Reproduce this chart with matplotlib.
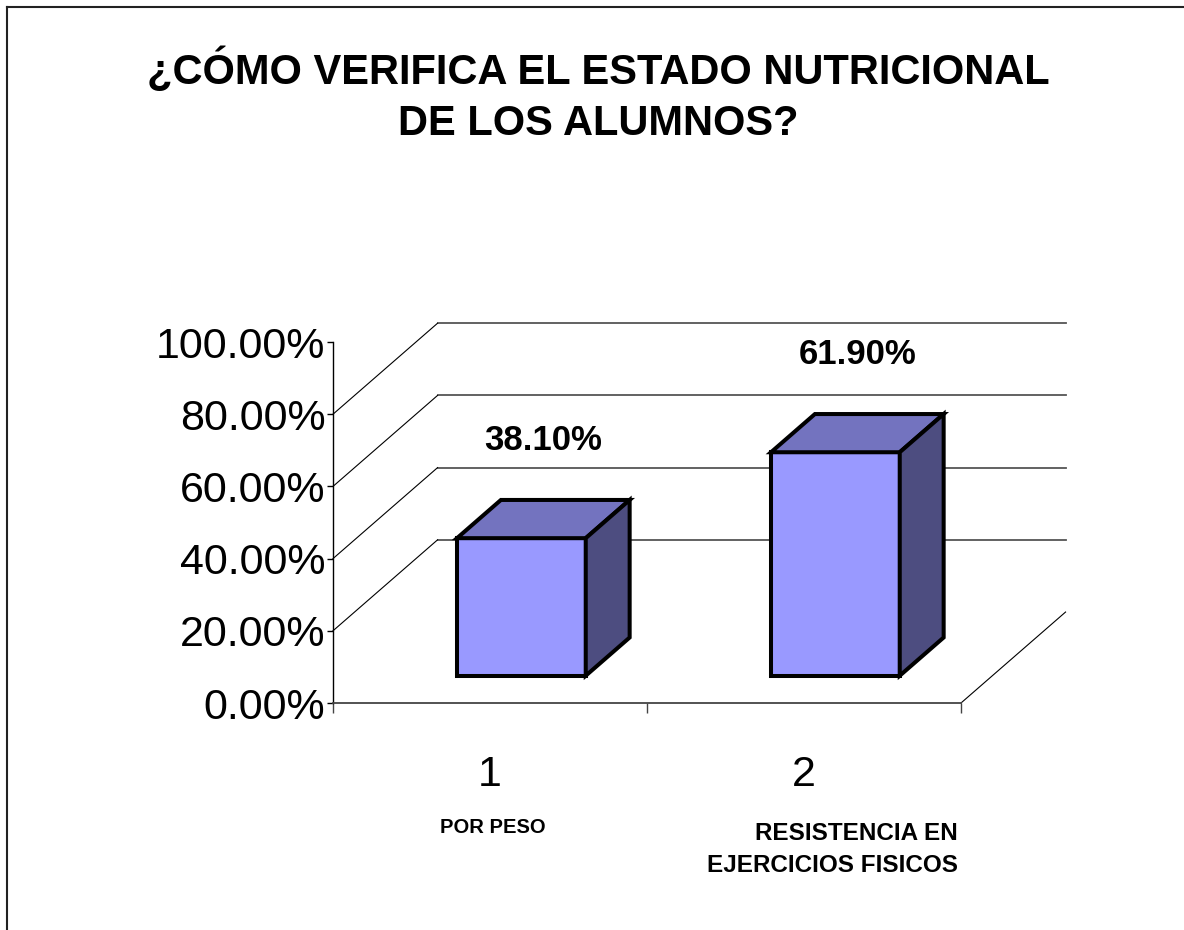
import matplotlib
matplotlib.use("Agg")
import matplotlib.pyplot as plt
from matplotlib.patches import Polygon
from matplotlib.lines import Line2D

plt.rcParams['font.family'] = ['Liberation Sans', 'DejaVu Sans']

# data
positions = [1, 2]
tick_names = ['1', '2']
category_labels = ['POR PESO', 'RESISTENCIA EN\nEJERCICIOS FISICOS']
values = [38.10, 61.90]
value_labels = ['38.10%', '61.90%']
y_ticks = [0, 20, 40, 60, 80, 100]
grid_levels = [20, 40, 60, 80]

title = '¿CÓMO VERIFICA EL ESTADO NUTRICIONAL\nDE LOS ALUMNOS?'

# fake 3d geometry (depth of the whole wall, in data units)
DX = 0.333
DY = 25.2
F0, F1 = 0.30, 0.72    # bar front / back depth fraction
BAR_W = 0.41
FRONT = '#9999FF'
TOP = '#7373BF'
SIDE = '#4D4D80'
EDGE_W = 2.9

fig = plt.figure(figsize=(11.84, 9.3), dpi=100)
ax = fig.add_axes([333 / 1184, 227 / 930, 628 / 1184, 361 / 930])
ax.set_xlim(0.5, 2.5)
ax.set_ylim(0, 100)
ax.patch.set_visible(False)

# walls
x0w, x1w = ax.get_xlim()
for g in grid_levels:
    ax.plot([x0w + DX, x1w + DX], [g + DY, g + DY], color='#555555', lw=1.3,
            clip_on=False, zorder=1)
    ax.plot([x0w, x0w + DX], [g, g + DY], color='black', lw=0.8,
            clip_on=False, zorder=1)
ax.plot([x1w, x1w + DX], [0, DY], color='black', lw=0.8, clip_on=False, zorder=1)

# bars
b0 = F0 * DY
bdx = (F1 - F0) * DX
bdy = (F1 - F0) * DY
fronts = [p + F0 * DX for p in positions]
ax.bar(fronts, values, width=BAR_W, bottom=b0, color=FRONT, edgecolor='black',
       linewidth=EDGE_W, zorder=3, clip_on=False)
for xc, v in zip(fronts, values):
    xa, xb = xc - BAR_W / 2, xc + BAR_W / 2
    top = Polygon([(xa, v + b0), (xb, v + b0), (xb + bdx, v + b0 + bdy),
                   (xa + bdx, v + b0 + bdy)], closed=True, facecolor=TOP,
                  edgecolor='black', lw=EDGE_W, zorder=3, clip_on=False,
                  joinstyle='miter')
    side = Polygon([(xb, b0), (xb + bdx, b0 + bdy), (xb + bdx, v + b0 + bdy),
                    (xb, v + b0)], closed=True, facecolor=SIDE,
                   edgecolor='black', lw=EDGE_W, zorder=3, clip_on=False,
                   joinstyle='miter')
    ax.add_patch(top)
    ax.add_patch(side)

for p, v, lab in zip(positions, values, value_labels):
    ax.text(p + (F0 + F1) / 2 * DX, v + 34.5, lab, ha='center', va='center',
            fontsize=25, fontweight='bold', clip_on=False)

# axes
ax.spines['top'].set_visible(False)
ax.spines['right'].set_visible(False)
ax.spines['left'].set_linewidth(1.0)
ax.spines['bottom'].set_linewidth(1.3)
ax.spines['bottom'].set_color('#444444')
ax.set_yticks(y_ticks)
ax.set_yticklabels([f'{t:.2f}%' for t in y_ticks])
ax.tick_params(axis='y', direction='out', length=4.5, width=1, pad=1,
               labelsize=31)
ax.set_xticks([0.5, 1.5, 2.5])
ax.set_xticklabels([])
ax.tick_params(axis='x', direction='out', length=7, width=1, color='#444444')

for p, t in zip(positions, tick_names):
    ax.text(p, -20, t, ha='center', va='center', fontsize=31, clip_on=False)

ax.text(positions[0] + 0.01, -34.5, category_labels[0], ha='center', va='center',
        fontsize=14.5, fontweight='bold', clip_on=False)
ax.text(positions[1] + 0.09, -40.5, category_labels[1], ha='center', va='center',
        multialignment='right', linespacing=1.5,
        fontsize=17.5, fontweight='bold', clip_on=False)

fig.text(0.505, 1 - 96 / 930, title, ha='center', va='center', fontsize=30,
         fontweight='bold', linespacing=1.35)

# outer frame (top and left edge only)
fig.add_artist(Line2D([6.5 / 1184, 1], [1 - 7.5 / 930, 1 - 7.5 / 930],
                      transform=fig.transFigure, color='#222222', lw=1.5))
fig.add_artist(Line2D([6.5 / 1184, 6.5 / 1184], [0, 1 - 7.5 / 930],
                      transform=fig.transFigure, color='#222222', lw=1.5))

fig.savefig('out.png', dpi=100)
